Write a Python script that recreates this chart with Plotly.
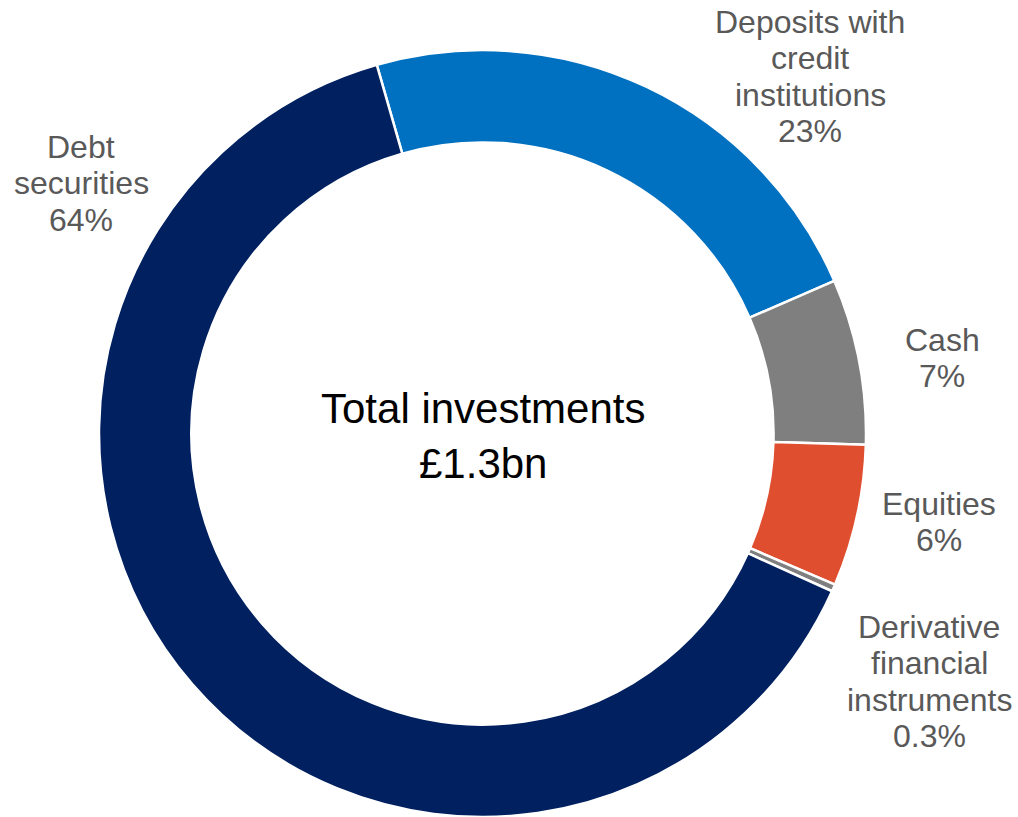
import plotly.graph_objects as go

# Investment mix (share of total investments, %)
categories = [
    "Deposits with credit institutions",
    "Cash",
    "Equities",
    "Derivative financial instruments",
    "Debt securities",
]
values = [23, 7, 6, 0.3, 64]
label_lines = [
    ["Deposits with", "credit", "institutions"],
    ["Cash"],
    ["Equities"],
    ["Derivative", "financial", "instruments"],
    ["Debt", "securities"],
]
center_title = "Total investments"
center_total = "£1.3bn"

colors = ["#0070C0", "#7F7F7F", "#DF4F2F", "#7F7F7F", "#002060"]

W, H = 1018, 817

# Label block placement in pixels: centre x, baseline of the first line
label_pos = [
    (810, 33),
    (942, 351),
    (939, 515),
    (929, 638),
    (81, 158),
]
LABEL_FONT = 32
LINE_STEP = 36.5

fig = go.Figure(
    go.Pie(
        labels=categories,
        values=values,
        sort=False,
        direction="clockwise",
        rotation=-16,
        hole=0.759,
        marker=dict(colors=colors, line=dict(color="white", width=2.5)),
        textinfo="none",
        hoverinfo="label+percent",
        showlegend=False,
        domain=dict(x=[99 / W, 866 / W], y=[0, 767 / H]),
    )
)

annotations = []
for lines, val, (cx, base) in zip(label_lines, values, label_pos):
    rows = lines + [f"{val:g}%"]
    for i, row in enumerate(rows):
        baseline = base + i * LINE_STEP
        mid = baseline - 0.3465 * LABEL_FONT
        annotations.append(
            dict(
                text=row,
                x=cx / W,
                y=1 - mid / H,
                xref="paper",
                yref="paper",
                xanchor="center",
                yanchor="middle",
                showarrow=False,
                font=dict(family="Liberation Sans, Arial, sans-serif",
                          size=LABEL_FONT, color="#595959"),
            )
        )

annotations.append(
    dict(
        text=f"{center_title}<br>{center_total}",
        x=482.5 / W,
        y=1 - 435.5 / H,
        xref="paper",
        yref="paper",
        xanchor="center",
        yanchor="middle",
        showarrow=False,
        font=dict(family="Liberation Sans, Arial, sans-serif", size=42, color="#000000"),
    )
)

fig.update_layout(
    width=W,
    height=H,
    margin=dict(l=0, r=0, t=0, b=0),
    paper_bgcolor="white",
    plot_bgcolor="white",
    annotations=annotations,
)

fig.write_html("out.html")
